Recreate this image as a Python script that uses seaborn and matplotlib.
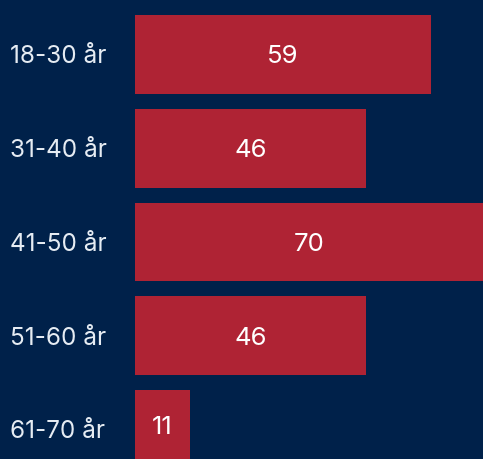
import matplotlib
matplotlib.use("Agg")
from matplotlib import pyplot as plt
import seaborn as sns
import pandas as pd

ages = ["18-30 år", "31-40 år", "41-50 år", "51-60 år", "61-70 år"]
values = [59, 46, 70, 46, 11]

bg = "#00214A"
red = "#AF2334"

sns.set_theme(style="white")
plt.rcParams['font.family'] = ['Inter', 'DejaVu Sans']

df = pd.DataFrame({'age': ages, 'value': values})

fig = plt.figure(figsize=(4.83, 4.59), dpi=100, facecolor=bg)
ax = fig.add_axes([135/483, 0, 348/483, 1])
ax.set_facecolor(bg)

sns.barplot(data=df, x='value', y='age', orient='h', color=red, width=0.84,
            saturation=1, linewidth=0, ax=ax)

ax.set_xlim(0, 348/5.02)
ax.set_ylim(4.315, -0.581)
for t in ax.bar_label(ax.containers[0], label_type='center', color='white',
                      fontsize=18.5):
    t.set_va('center_baseline')

ax.set_xlabel('')
ax.set_ylabel('')
ax.set_xticks([])
for s in ax.spines.values():
    s.set_visible(False)
ax.tick_params(axis='y', length=0, pad=90, labelsize=17.5, labelcolor='#E6ECF3')
for t in ax.get_yticklabels():
    t.set_ha('left')

fig.savefig('out.png', dpi=100, facecolor=bg)
